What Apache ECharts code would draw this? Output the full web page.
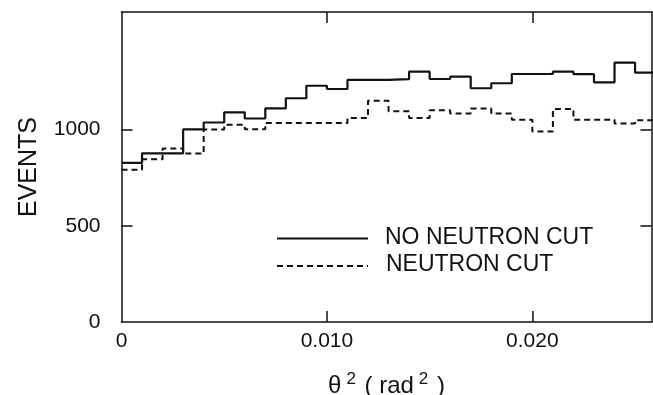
<!DOCTYPE html>
<html>
<head>
<meta charset="utf-8">
<script src="https://cdn.jsdelivr.net/npm/echarts@6/dist/echarts.min.js"></script>
<style>html,body{margin:0;padding:0;background:#fff}#c{width:653px;height:395px}</style>
</head>
<body>
<div id="c"></div>
<script>
// bin left edges (theta^2, rad^2), bin width 0.001
const binEdges = [0.000,0.001,0.002,0.003,0.004,0.005,0.006,0.007,0.008,0.009,0.010,0.011,0.012,0.013,0.014,0.015,0.016,0.017,0.018,0.019,0.020,0.021,0.022,0.023,0.024,0.025,0.026];
const noNeutronCut = [826,876,876,1000,1036,1089,1057,1109,1162,1227,1210,1257,1257,1261,1300,1262,1274,1214,1240,1288,1288,1300,1287,1245,1347,1295];
const neutronCut   = [791,845,901,875,1000,1024,1001,1034,1034,1034,1034,1060,1149,1095,1060,1100,1083,1109,1083,1050,989,1106,1050,1050,1031,1048];
const xTicks = [0, 0.010, 0.020];
const yTicks = [0, 500, 1000];
const legendNames = ['NO NEUTRON CUT', 'NEUTRON CUT'];

function hist(vals){
  const d = vals.map((v,i)=>[binEdges[i], v]);
  d.push([binEdges[vals.length], vals[vals.length-1]]);
  return d;
}
const FONT = '"Liberation Sans", Arial, Helvetica, sans-serif';
const chart = echarts.init(document.getElementById('c'), null, {renderer:'canvas'});
const axLine = {show:true, onZero:false, lineStyle:{color:'#111', width:1.5}};
chart.setOption({
  animation:false,
  backgroundColor:'#fff',
  grid:{left:121.5, right:1.5, top:12, bottom:73, containLabel:false, outerBoundsMode:'none'},
  xAxis:[{
    type:'value', min:0, max:0.0258, position:'bottom',
    axisLine:axLine,
    axisTick:{show:true, inside:true, length:11, customValues:xTicks.slice(1), lineStyle:{color:'#111', width:1.5}},
    axisLabel:{customValues:xTicks, margin:9, color:'#111', fontFamily:FONT, fontSize:21,
      formatter:v=> v===0 ? '0' : v.toFixed(3)},
    splitLine:{show:false},
    name:'θ{sup|2} ( rad{sup|2} )', nameLocation:'middle', nameGap:49,
    nameTextStyle:{color:'#111', fontFamily:FONT, fontSize:24,
      rich:{sup:{fontSize:17, verticalAlign:'bottom', padding:[0,2,13,5], fontFamily:FONT, color:'#111'}}}
  },{
    type:'value', min:0, max:0.0258, position:'top',
    axisLine:axLine,
    axisTick:{show:true, inside:true, length:11, customValues:xTicks.slice(1), lineStyle:{color:'#111', width:1.5}},
    axisLabel:{show:false}, splitLine:{show:false}
  }],
  yAxis:[{
    type:'value', min:0, max:1610, position:'left',
    axisLine:axLine,
    axisTick:{show:true, inside:true, length:11, customValues:yTicks.slice(1), lineStyle:{color:'#111', width:1.5}},
    axisLabel:{customValues:yTicks, margin:21, color:'#111', fontFamily:FONT, fontSize:21,
      formatter:v=>String(v)},
    splitLine:{show:false},
    name:'EVENTS', nameLocation:'middle', nameGap:80, nameRotate:90,
    nameTextStyle:{color:'#111', fontFamily:FONT, fontSize:25}
  },{
    type:'value', min:0, max:1610, position:'right',
    axisLine:axLine,
    axisTick:{show:true, inside:true, length:11, customValues:yTicks.slice(1), lineStyle:{color:'#111', width:1.5}},
    axisLabel:{show:false}, splitLine:{show:false}
  }],
  series:[{
    name:legendNames[0], type:'line', step:'end', symbol:'none', clip:true,
    xAxisIndex:0, yAxisIndex:0,
    lineStyle:{color:'#111', width:2.2}, data:hist(noNeutronCut)
  },{
    name:legendNames[1], type:'line', step:'end', symbol:'none', clip:true,
    xAxisIndex:0, yAxisIndex:0,
    lineStyle:{color:'#111', width:2, type:[6,4]}, data:hist(neutronCut)
  }],
  graphic:[
    {type:'line', shape:{x1:277, y1:238.5, x2:368, y2:238.5}, style:{stroke:'#111', lineWidth:2}},
    {type:'text', left:385, top:226, style:{text:legendNames[0], font:'23px '+FONT, fill:'#111'}},
    {type:'line', shape:{x1:277, y1:266, x2:368, y2:266}, style:{stroke:'#111', lineWidth:2, lineDash:[6,4]}},
    {type:'text', left:386, top:253, style:{text:legendNames[1], font:'23px '+FONT, fill:'#111'}}
  ]
});
</script>
</body>
</html>
